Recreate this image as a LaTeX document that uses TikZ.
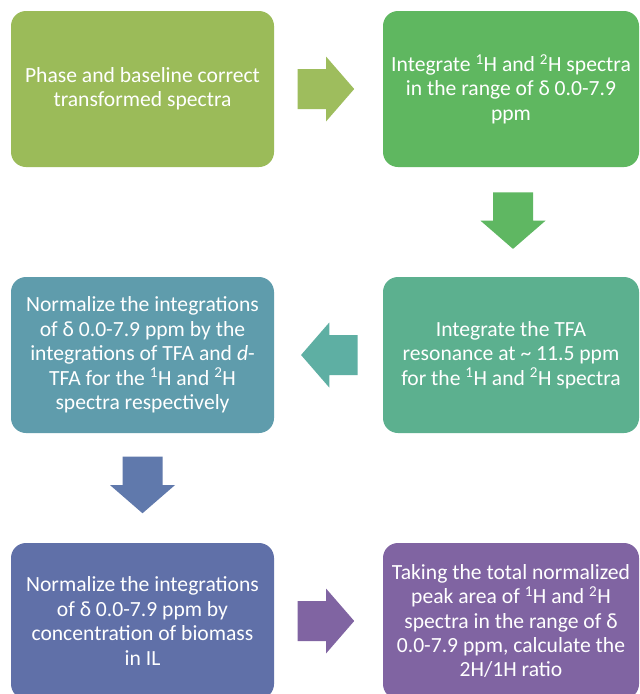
\documentclass[tikz,border=0pt]{standalone}
\usepackage{fontspec}
\setmainfont{Carlito}
\usetikzlibrary{calc}
\definecolor{c1}{RGB}{155,187,89}
\definecolor{c2}{RGB}{95,183,96}
\definecolor{c3}{RGB}{92,176,143}
\definecolor{c4}{RGB}{95,156,172}
\definecolor{c5}{RGB}{96,112,168}
\definecolor{c6}{RGB}{128,100,162}
\definecolor{ar1}{RGB}{158,189,93}
\definecolor{ar2}{RGB}{95,183,98}
\definecolor{ar3}{RGB}{94,175,163}
\definecolor{ar4}{RGB}{96,121,172}
\definecolor{ar5}{RGB}{128,100,162}
\begin{document}
\begin{tikzpicture}[x=1pt,y=-1pt,
  box/.style={rounded corners=15pt, inner sep=0pt, text=white, align=center,
    minimum width=263pt, minimum height=156pt,
    font=\fontsize{21.6}{24.4}\selectfont},
  rbox/.style={box, minimum width=256pt},
  pics/blockarrow/.style={code={\fill[#1] (-28.4,-20) -- (0,-20) -- (0,-32.5) -- (28.2,0) -- (0,32.5) -- (0,20) -- (-28.4,20) -- cycle;}}]
\useasboundingbox (0,0) rectangle (640,694);
\clip (0,0) rectangle (640,694);
\fill[white] (0,0) rectangle (640,694);

\node[box, fill=c1] (b1) at (142.5,89) {Phase and baseline correct\\transformed spectra};
\node[rbox, fill=c2] (b2) at (511,89) {Integrate \textsuperscript{1}H and \textsuperscript{2}H spectra\\in the range of δ 0.0-7.9\\ppm};
\node[rbox, fill=c3] (b3) at (511,355) {Integrate the TFA\\resonance at \char`~{} 11.5 ppm\\for the \textsuperscript{1}H and \textsuperscript{2}H spectra};
\node[box, fill=c4] (b4) at (142.5,355) {Normalize the integrations\\of δ 0.0-7.9 ppm by the\\integrations of TFA and \textit{d}-\\TFA for the \textsuperscript{1}H and \textsuperscript{2}H\\spectra respectively};
\node[box, fill=c5] (b5) at (142.5,621) {Normalize the integrations\\of δ 0.0-7.9 ppm by\\concentration of biomass\\in IL};
\node[rbox, fill=c6] (b6) at (511,621) {Taking the total normalized\\peak area of \textsuperscript{1}H and \textsuperscript{2}H\\spectra in the range of δ\\0.0-7.9 ppm, calculate the\\2H/1H ratio};

\path (b1.east) -- (b2.west) coordinate[pos=0.477] (a1);
\path ([xshift=2pt]b2.south) -- ([xshift=2pt]b3.north) coordinate[pos=0.488] (a2);
\path (b3.west) -- (b4.east) coordinate[pos=0.493] (a3);
\path (b4.south) -- (b5.north) coordinate[pos=0.473] (a4);
\path (b5.east) -- (b6.west) coordinate[pos=0.477] (a5);

\pic at (a1) {blockarrow=ar1};
\pic[rotate=-90] at (a2) {blockarrow=ar2};
\pic[rotate=180] at (a3) {blockarrow=ar3};
\pic[rotate=-90] at (a4) {blockarrow=ar4};
\pic at (a5) {blockarrow=ar5};
\end{tikzpicture}
\end{document}
